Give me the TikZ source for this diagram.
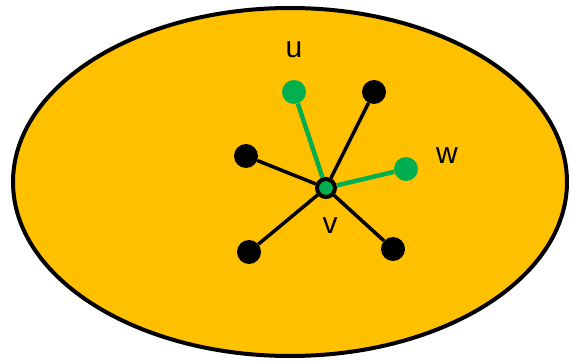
\documentclass[tikz,border=0pt]{standalone}
\usepackage{fontspec}
\setmainfont{Liberation Sans}
\usepackage{tikz}
\usetikzlibrary{positioning, calc}
\definecolor{regionorange}{RGB}{255, 192, 0}
\definecolor{markgreen}{RGB}{0, 176, 80}

\begin{document}
\begin{tikzpicture}[
  x=1pt, y=-1pt,
  every node/.style={font=\fontsize{30}{30}\selectfont},
  vertex/.style={circle, fill=black, inner sep=0pt, minimum size=24pt},
  marked/.style={circle, fill=markgreen, inner sep=0pt, minimum size=24pt},
  centre/.style={circle, draw=black, line width=4pt, fill=markgreen, inner sep=0pt, minimum size=18pt},
  edge/.style={line width=3.5pt, black},
  markededge/.style={line width=4.5pt, markgreen},
  label/.style={inner sep=0pt}
]
  \useasboundingbox (0,0) rectangle (571,361);

  % Region
  \draw[line width=4pt, fill=regionorange] (290,182) ellipse [x radius=277pt, y radius=174pt];

  % Knoten
  \node[centre] (v) at (326,188) {};
  \node[marked] (u) at (294,92) {};
  \node[marked] (w) at (406,169) {};
  \node[vertex] (a) at (374,92) {};
  \node[vertex] (b) at (246,156) {};
  \node[vertex] (c) at (249,252) {};
  \node[vertex] (d) at (393,249) {};

  % Kanten
  \draw[edge] (v) -- (a);
  \draw[edge] (v) -- (b);
  \draw[edge] (v) -- (c);
  \draw[edge] (v) -- (d);
  \draw[markededge] (v) -- (u);
  \draw[markededge] (v) -- (w);

  % Beschriftungen
  \node[label] (lu) at (294,50) {u};
  \node[label] (lw) at (447,156) {w};
  \node[label] (lv) at (330,226) {v};
\end{tikzpicture}
\end{document}
